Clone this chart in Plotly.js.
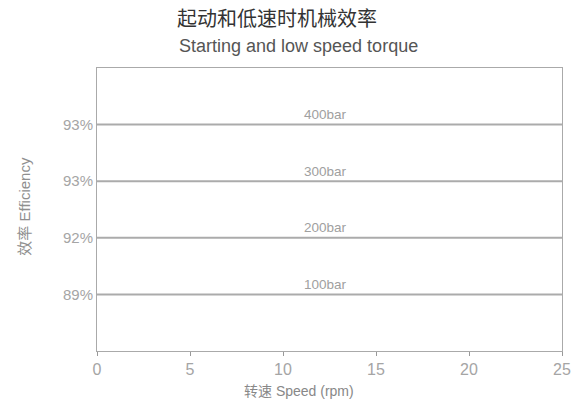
<!DOCTYPE html>
<html><head><meta charset="utf-8">
<script src="https://cdn.plot.ly/plotly-3.0.1.min.js"></script>
<style>html,body{margin:0;padding:0;background:#fff}#chart{width:575px;height:401px}</style>
</head><body><div id="chart"></div>
<script>
const pressures = ["100bar", "200bar", "300bar", "400bar"];
const efficiencyLabels = ["89%", "92%", "93%", "93%"];
const speedStart = [0, 0, 0, 0];
const speedEnd = [25, 25, 25, 25];
const labelSpeed = 12.3;
const xTicks = [0, 5, 10, 15, 20, 25];

const FONT = "Liberation Sans, Arial, sans-serif";
const traces = pressures.map((p, i) => ({
  x: [speedStart[i], speedEnd[i]],
  y: [p, p],
  type: "scatter",
  mode: "lines",
  line: {color: "#ababab", width: 2},
  hoverinfo: "skip",
  showlegend: false
}));

const annotations = pressures.map(p => ({
  x: labelSpeed, y: p, xref: "x", yref: "y",
  text: p, showarrow: false, yshift: 10,
  font: {family: FONT, size: 13.5, color: "#a0a0a0"}
}));
annotations.push({
  xref: "paper", yref: "paper", x: (299-97)/465, y: 0, yshift: -40,
  text: "转速 Speed (rpm)", showarrow: false, xanchor: "center", yanchor: "middle",
  font: {family: FONT + ", Noto Sans CJK SC", size: 14, color: "#888"}
});
annotations.push({
  xref: "paper", yref: "paper", x: 0, xshift: -72, y: 0.51,
  text: "效率 Efficiency", showarrow: false, textangle: -90,
  xanchor: "center", yanchor: "middle",
  font: {family: FONT + ", Noto Sans CJK SC", size: 15, color: "#8f8f8f"}
});
annotations.push({
  xref: "paper", yref: "paper", x: (177-97)/465, y: 1, yshift: 22,
  xanchor: "left", yanchor: "middle",
  text: "Starting and low speed torque", showarrow: false,
  font: {family: FONT, size: 18, color: "#555"}
});

const layout = {
  width: 575, height: 401,
  margin: {l: 97, r: 13, t: 68, b: 50},
  paper_bgcolor: "#fff", plot_bgcolor: "#fff",
  title: {
    text: "起动和低速时机械效率",
    x: 177/575, xanchor: "left", xref: "container",
    y: 1 - 19/401, yanchor: "middle", yref: "container",
    font: {family: "Noto Sans CJK SC", size: 20, color: "#333"}
  },
  xaxis: {
    range: [0, 25], tickvals: xTicks, ticks: "outside", ticklen: 4, tickcolor: "#999",
    showline: true, linecolor: "#aaa", linewidth: 1, mirror: true,
    showgrid: false, zeroline: false,
    tickfont: {family: FONT, size: 16, color: "#a5a5a5"}
  },
  yaxis: {
    type: "category", categoryarray: pressures, range: [-1, 4],
    tickvals: pressures, ticktext: efficiencyLabels, ticks: "",
    showline: true, linecolor: "#aaa", linewidth: 1, mirror: true,
    showgrid: false, zeroline: false, ticklabelstandoff: 0,
    tickfont: {family: FONT, size: 15, color: "#a5a5a5"}
  },
  annotations: annotations,
  showlegend: false
};
Plotly.newPlot("chart", traces, layout, {displayModeBar: false, staticPlot: true});
</script></body></html>
